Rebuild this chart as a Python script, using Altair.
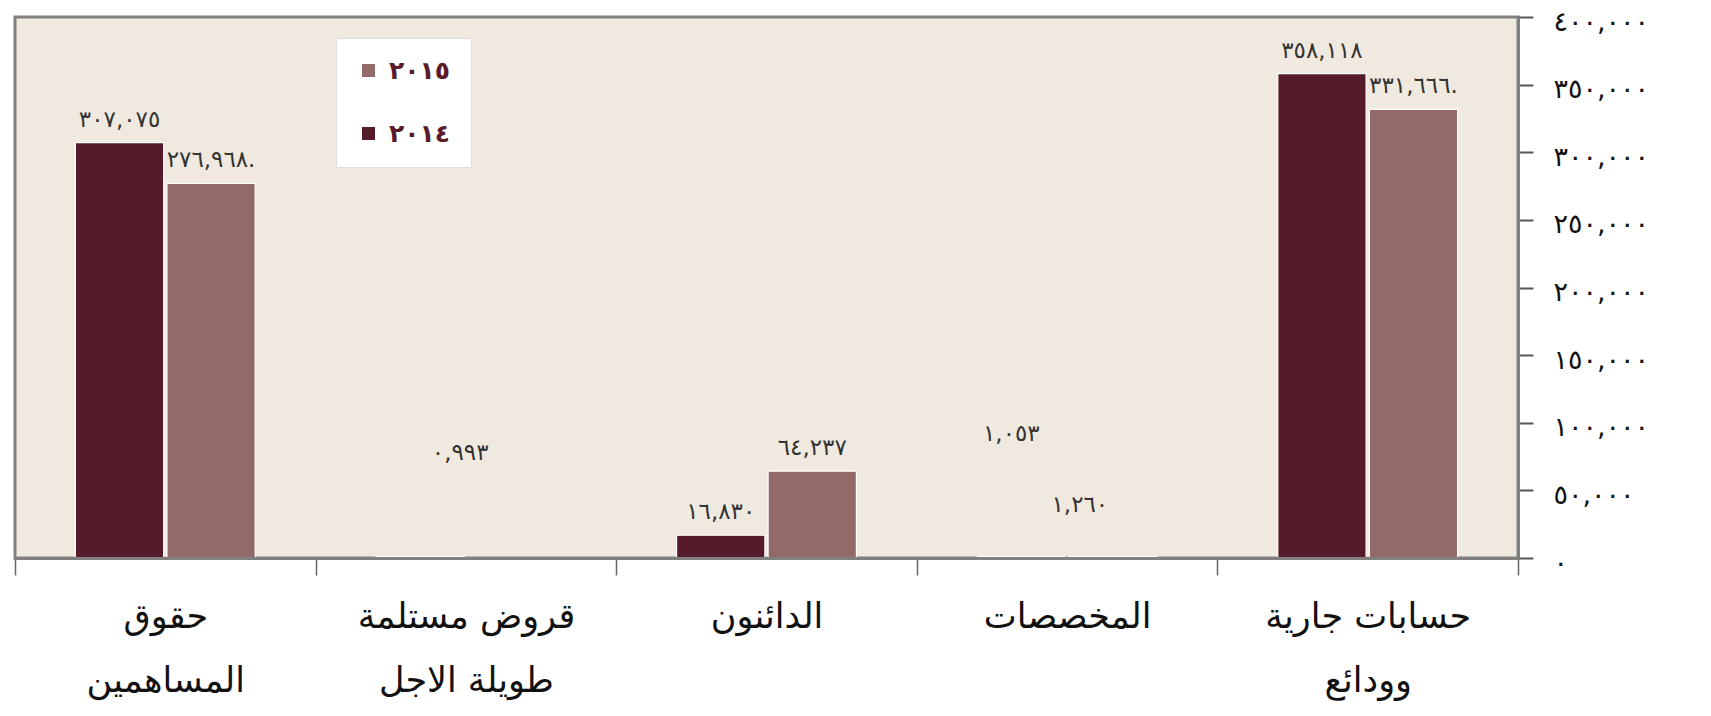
import altair as alt
import pandas as pd

# ---- data ----
categories = ["حقوق|المساهمين", "قروض مستلمة|طويلة الاجل", "الدائنون", "المخصصات", "حسابات جارية|وودائع"]
years = ["٢٠١٤", "٢٠١٥"]
values_2014 = [307075, 993, 16830, 1053, 358118]
values_2015 = [276968, None, 64237, 1260, 331666]
labels_2014 = ["٣٠٧,٠٧٥", "٠,٩٩٣", "١٦,٨٣٠", "١,٠٥٣", "٣٥٨,١١٨"]
labels_2015 = ["٢٧٦,٩٦٨.", "", "٦٤,٢٣٧", "١,٢٦٠", "٣٣١,٦٦٦."]
y_ticks = [0, 50000, 100000, 150000, 200000, 250000, 300000, 350000, 400000]
# small labels that float away from their (near-zero) bars: category, year, height (data units)
float_cat = ["قروض مستلمة|طويلة الاجل", "المخصصات", "المخصصات"]
float_year = ["٢٠١٤", "٢٠١٤", "٢٠١٥"]
float_at = [78000, 92000, 39000]

DARK = "#561b2a"
LIGHT = "#926a69"
BG = "#f0e9df"
FONT = "DejaVu Sans"
FLOAT_NUDGE = [40, -10, -33]  # horizontal pixel nudges of the floating labels

rows = []
for i, c in enumerate(categories):
    for y, vals, labs in ((years[0], values_2014, labels_2014), (years[1], values_2015, labels_2015)):
        rows.append({"category": c, "year": y, "value": vals[i], "label": labs[i]})

bar_rows = [r for r in rows if r["value"] is not None]
float_keys = set(zip(float_cat, float_year))
norm_rows = [r for r in bar_rows if (r["category"], r["year"]) not in float_keys and r["label"] != ""]

bars_df = pd.DataFrame(bar_rows)
norm_df = pd.DataFrame(norm_rows)

# axis label expression: western digits -> Arabic-Indic digits
ar = "٠١٢٣٤٥٦٧٨٩"
expr = "format(datum.value, ',')"
for d in range(10):
    expr = f"replace({expr}, regexp('{d}','g'), '{ar[d]}')"

x_enc = alt.X(
    "category:N",
    sort=categories,
    scale=alt.Scale(paddingInner=0, paddingOuter=0),
    axis=alt.Axis(
        title=None,
        labelExpr="split(datum.label, '|')",
        labelAngle=0,
        tickBand="extent",
        tickSize=17,
        tickColor="#666666",
        tickWidth=1.5,
        domainColor="#808080",
        domainWidth=3,
        labelPadding=24,
        labelFont=FONT,
        labelFontSize=35,
        labelColor="#111111",
        labelLineHeight=64,
        labelLimit=400,
        zindex=1,
    ),
)
xoff = alt.XOffset("year:N", sort=years, scale=alt.Scale(paddingInner=0.035, paddingOuter=0.66))
y_scale = alt.Scale(domain=[0, 400000], nice=False)

bars = alt.Chart(bars_df).mark_bar(stroke="white", strokeWidth=1.2).encode(
    x=x_enc,
    xOffset=xoff,
    y=alt.Y(
        "value:Q",
        scale=y_scale,
        axis=alt.Axis(
            orient="right",
            values=y_ticks,
            title=None,
            grid=False,
            labelExpr=expr,
            tickSize=15,
            tickColor="#555555",
            tickWidth=2,
            domainColor="#808080",
            domainWidth=3,
            labelPadding=20,
            labelOffset=5,
            labelFont=FONT,
            labelFontSize=27,
            labelColor="#111111",
            zindex=1,
        ),
    ),
    color=alt.Color(
        "year:N",
        scale=alt.Scale(domain=[years[1], years[0]], range=[LIGHT, DARK]),
        legend=alt.Legend(
            title=None,
            orient="none",
            legendX=321,
            legendY=21,
            fillColor="white",
            strokeColor="#dddddd",
            padding=20,
            rowPadding=37,
            symbolType="square",
            symbolSize=170,
            symbolStrokeWidth=0,
            labelFont=FONT,
            labelFontSize=25,
            labelFontWeight="bold",
            labelColor="#5a1a2b",
            labelOffset=8,
        ),
    ),
)

text = alt.Chart(norm_df).mark_text(dy=-23, fontSize=23, font=FONT, color="#333333", baseline="middle").encode(
    x=alt.X("category:N", sort=categories),
    xOffset=alt.XOffset("year:N", sort=years),
    y=alt.Y("value:Q", scale=y_scale),
    text="label:N",
)

layers = [bars, text]
for fc, fy, fa, nd in zip(float_cat, float_year, float_at, FLOAT_NUDGE):
    lab = [r["label"] for r in rows if r["category"] == fc and r["year"] == fy][0]
    fdf = pd.DataFrame([{"category": fc, "year": fy, "anchor": fa, "label": lab}])
    layers.append(
        alt.Chart(fdf).mark_text(fontSize=23, font=FONT, color="#333333", baseline="middle", dx=nd).encode(
            x=alt.X("category:N", sort=categories),
            xOffset=alt.XOffset("year:N", sort=years),
            y=alt.Y("anchor:Q", scale=y_scale),
            text="label:N",
        )
    )

chart = (
    alt.layer(*layers)
    .properties(
        width=1503,
        height=541,
        autosize=alt.AutoSizeParams(type="none"),
        padding={"left": 7, "top": 9, "right": 185, "bottom": 150},
        background="white",
    )
    .configure_view(fill=BG, stroke="#808080", strokeWidth=3)
)

chart.save("out.html", embed_options={"renderer": "svg", "actions": False})
